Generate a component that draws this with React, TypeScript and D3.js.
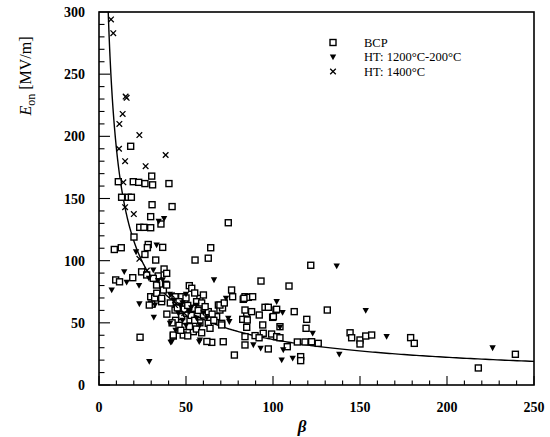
import React from "react";
import * as d3 from "d3";

const xTicks = [0, 50, 100, 150, 200, 250];
const yTicks = [0, 50, 100, 150, 200, 250, 300];
const legendLabels = ["BCP", "HT: 1200°C-200°C", "HT: 1400°C"];
const fitA = 990;
const fitB = 0.716;

const bcp: [number, number][] = [
  [18.2, 192], [30.3, 168], [11.1, 163.5], [19.7, 163.5], [22.8, 163], [26.4, 162], [30.8, 161], [40.2, 162],
  [13, 151], [16.8, 151], [18.6, 151], [30.5, 145], [42, 143.5], [29.7, 135.4], [35.6, 129.5], [23.4, 126.8],
  [25.8, 126.8], [29.7, 126.5], [20.1, 119], [28.3, 113], [27.8, 110.5], [36.6, 110.7], [8.8, 109], [12.8, 110.4],
  [26.4, 105], [32.6, 100.5], [55.2, 100.5], [62.8, 102], [64.2, 110.4], [74.3, 130.5], [121.7, 96.3],
  [37.4, 93.3], [38.9, 89.8], [34, 87.7], [24.5, 91], [27.4, 88.5], [19.4, 86.3], [9.6, 84.5], [11.8, 83],
  [33.1, 80.4], [38.3, 81], [31.2, 85.8],
  [29.7, 71], [32, 70], [30.3, 65], [28.9, 64.3], [36, 67], [33.2, 73.8], [36, 69.7], [37, 76.4], [38.9, 80.4],
  [23.6, 38.4], [42.7, 39.4],
  [51.9, 79.9], [53.3, 77.8], [47.5, 71], [43.7, 71], [58, 69.7], [60, 72.4], [56.1, 67], [59, 66], [49.4, 65.7],
  [43.7, 60.3], [47.5, 55], [50.4, 57.7], [54.2, 61.7], [52.3, 52.3], [60, 56.3], [62.8, 59], [68.6, 64.3],
  [69.5, 60.3], [71, 62], [67.6, 55], [70.5, 49.6], [62.8, 49.6], [63.8, 45.6], [54.2, 42.9], [48.4, 46.9],
  [48.4, 40.2], [51, 39.5], [42.7, 40.2], [64.8, 34.3], [62, 35], [83.9, 38.9], [84.9, 57.7],
  [76.2, 76.4], [76.8, 71], [83.9, 71], [82.9, 68.9], [85.8, 70.5], [88.3, 71], [69.5, 64.3], [72, 66],
  [70.5, 48.3], [71.4, 34.8],
  [44, 52], [46, 48], [52, 47], [56, 45], [58, 50], [45, 62], [41, 66], [50, 70], [55, 74], [57, 60], [61, 63],
  [65, 57], [66, 52], [39, 57], [42, 50], [53, 56], [46, 67], [49, 61], [51, 64], [55, 52], [47, 44], [59, 42],
  [93.1, 83.6], [109.2, 79.6], [83.3, 69.7], [101.7, 60.3], [95.4, 62.5], [112.2, 59], [131.2, 60.3],
  [99.8, 54.4], [92.1, 56.3], [87.7, 59], [83.9, 60.3], [82.6, 52.8], [85.2, 52.3], [119.4, 52.8], [84.9, 46.4],
  [94.1, 48.3], [104, 46.9], [119, 45.6], [94.4, 41.6], [99.2, 41], [102.1, 38.9], [104, 38], [89.7, 39.7],
  [92, 38], [83.9, 32.2], [97.3, 29], [108.2, 30.8], [114, 34.6], [118.4, 34.6], [122.2, 34.8], [126, 33.5],
  [144.3, 42], [145.2, 38], [150, 36.2], [150, 33], [153.3, 39.4], [156.7, 40.2], [115.9, 22.8], [115.9, 19.6],
  [77.8, 24.1], [100.2, 55], [97.3, 62.5], [102.1, 60.9],
  [179.1, 38.1], [181.2, 33.5], [218, 13.7], [239.3, 24.7],
];

const ht1200: [number, number][] = [
  [34.3, 131.6], [37.4, 133.8], [33.1, 112.6], [21.3, 107], [14.5, 91], [15.9, 82.6], [23, 80], [7.3, 76.4],
  [28.7, 85.8], [23.2, 65.2], [31.5, 54.4], [28.9, 18.8], [41.2, 34.3], [40.8, 49.6], [31.2, 92.5], [36.6, 84.5],
  [34, 84], [66.1, 84.5], [136.6, 95.7], [73, 69.7], [40.8, 73], [50, 73], [46.6, 64.3], [45.6, 57.7],
  [56.1, 53.6], [74.3, 53.6], [58, 48.3], [41.8, 34.8], [58, 36.2], [57.6, 34.8], [74.9, 50.9], [102.1, 67],
  [105.5, 58.2], [104, 46.4], [122.8, 41.6], [92.9, 29.5], [88.7, 32.2], [105.9, 28.2], [105, 20.1],
  [111.3, 21.4], [138.1, 24.7], [153.3, 59.8], [165.3, 38.9], [226.2, 29.8], [32.2, 64.3], [53, 62], [60, 58],
  [48, 52], [44, 44], [43, 68], [48, 66], [52, 59], [56, 64], [62, 54], [50, 48],
];

const ht1400: [number, number][] = [
  [6.9, 294], [8.2, 283], [15.3, 232], [15.9, 231], [13.6, 218], [11.7, 210], [23.2, 201], [11.5, 190],
  [38.3, 185], [15, 180], [26.8, 176], [14, 163], [15, 143], [20, 137.5], [23.2, 101.5], [27.5, 92],
  [41.8, 72.4], [43.7, 64.3], [49, 57.7],
];

const M = { left: 99, right: 534, top: 12, bottom: 385 };

export default function App() {
  const x = d3.scaleLinear().domain([0, 250]).range([M.left, M.right]);
  const y = d3.scaleLinear().domain([0, 300]).range([M.bottom, M.top]);

  const fitPts: [number, number][] = [];
  const b0 = Math.pow(fitA / 320, 1 / fitB);
  for (let i = 0; i <= 400; i++) {
    const b = b0 * Math.pow(250 / b0, i / 400);
    fitPts.push([b, fitA * Math.pow(b, -fitB)]);
  }
  const line = d3.line<[number, number]>().x((d) => x(d[0])).y((d) => y(d[1]));

  const xMinor = d3.range(0, 251, 10);
  const yMinor = d3.range(0, 301, 10);
  const serif = "'Liberation Serif', 'Times New Roman', serif";

  const square = (cx: number, cy: number, k: string) => (
    <rect key={k} x={cx - 3} y={cy - 3} width={6} height={6} fill="white" stroke="black" strokeWidth={1.4} />
  );
  const tri = (cx: number, cy: number, k: string) => (
    <path key={k} d={`M${cx - 3.2},${cy - 2.6}L${cx + 3.2},${cy - 2.6}L${cx},${cy + 3.2}Z`} fill="black" />
  );
  const cross = (cx: number, cy: number, k: string) => (
    <path key={k} d={`M${cx - 2.8},${cy - 2.8}L${cx + 2.8},${cy + 2.8}M${cx - 2.8},${cy + 2.8}L${cx + 2.8},${cy - 2.8}`}
      stroke="black" strokeWidth={1.3} fill="none" />
  );

  return (
    <svg width={550} height={437} style={{ position: "absolute", left: 0, top: 0, background: "white" }}
      fontFamily={serif}>
      <defs>
        <clipPath id="plot">
          <rect x={M.left} y={M.top} width={M.right - M.left} height={M.bottom - M.top} />
        </clipPath>
      </defs>
      <rect width={550} height={437} fill="white" />
      {xMinor.map((v) => (
        <line key={"xm" + v} x1={x(v)} x2={x(v)} y1={M.bottom} y2={M.bottom - (v % 50 === 0 ? 9 : 4.5)}
          stroke="black" strokeWidth={1.1} />
      ))}
      {yMinor.map((v) => (
        <line key={"ym" + v} y1={y(v)} y2={y(v)} x1={M.left} x2={M.left + (v % 50 === 0 ? 11 : 5.5)}
          stroke="black" strokeWidth={1.1} />
      ))}
      <rect x={M.left} y={M.top} width={M.right - M.left} height={M.bottom - M.top} fill="none"
        stroke="black" strokeWidth={1.6} />
      {xTicks.map((v) => (
        <text key={"xl" + v} x={x(v)} y={412} textAnchor="middle" fontSize={14} fontWeight="bold">{v}</text>
      ))}
      {yTicks.map((v) => (
        <text key={"yl" + v} x={85} y={y(v) + 5} textAnchor="end" fontSize={14} fontWeight="bold">{v}</text>
      ))}
      <text x={302} y={432} textAnchor="middle" fontSize={17} fontStyle="italic" fontWeight="bold">β</text>
      <text transform="translate(31,76) rotate(-90)" textAnchor="middle" fontSize={16}>
        <tspan fontStyle="italic">E</tspan>
        <tspan fontSize={12} dy={4}>on</tspan>
        <tspan dy={-4}> [MV/m]</tspan>
      </text>
      <g clipPath="url(#plot)">
        <path d={line(fitPts) || ""} fill="none" stroke="black" strokeWidth={1.4} />
      </g>
      <g>
        {bcp.map((d, i) => square(x(d[0]), y(d[1]), "s" + i))}
        {ht1200.map((d, i) => tri(x(d[0]), y(d[1]), "t" + i))}
        {ht1400.map((d, i) => cross(x(d[0]), y(d[1]), "c" + i))}
      </g>
      {square(333, 42.5, "ls")}
      {tri(333, 57, "lt")}
      {cross(333, 71.5, "lc")}
      {legendLabels.map((t, i) => (
        <text key={"lg" + i} x={364} y={46.5 + i * 14.5} fontSize={12.5}>{t}</text>
      ))}
    </svg>
  );
}
